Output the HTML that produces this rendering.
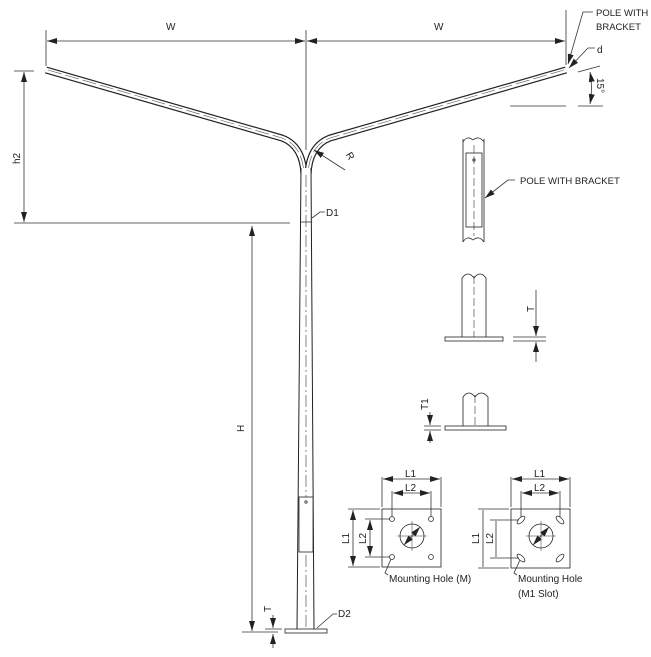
<!DOCTYPE html>
<html><head><meta charset="utf-8"><style>
html,body{margin:0;padding:0;background:#fff;}
svg{display:block;}
text{font-family:"Liberation Sans",Arial,sans-serif;fill:#222;}
</style></head><body>
<svg width="651" height="657" viewBox="0 0 651 657" xmlns="http://www.w3.org/2000/svg">
<defs>
<marker id="a" viewBox="0 0 10 6" refX="10" refY="3" markerWidth="10" markerHeight="6" orient="auto-start-reverse" markerUnits="userSpaceOnUse"><path d="M0,0 L10,3 L0,6z" fill="#222"/></marker>
</defs>
<g stroke="#333" fill="none" stroke-width="0.8">
<!-- W dimension -->
<line x1="46" y1="30" x2="46" y2="66"/>
<line x1="566" y1="10" x2="566" y2="65"/>
<line x1="306" y1="30" x2="306" y2="150"/>
<line x1="47" y1="41" x2="305" y2="41" marker-start="url(#a)" marker-end="url(#a)"/>
<line x1="307" y1="41" x2="565" y2="41" marker-start="url(#a)" marker-end="url(#a)"/>
<!-- arms -->
<path d="M46,70 L282,138 Q303,146 304,175" stroke="#222" stroke-width="7"/>
<path d="M46,70 L282,138 Q303,146 304,175" stroke="#fff" stroke-width="4.6"/>
<path d="M566,70 L330,138 Q309,146 308,175" stroke="#222" stroke-width="7"/>
<path d="M566,70 L330,138 Q309,146 308,175" stroke="#fff" stroke-width="4.6"/>
<path d="M48,70 L282,138 Q303,146 304,175" stroke="#555" stroke-width="0.6" stroke-dasharray="14,4"/>
<path d="M564,70 L330,138 Q309,146 308,175" stroke="#555" stroke-width="0.6" stroke-dasharray="14,4"/>
<!-- pole -->
<path d="M301,168 L297,630 L314,630 L311,168" fill="#fff" stroke="#222" stroke-width="1"/>
<line x1="306" y1="175" x2="306" y2="630" stroke-dasharray="12,3,2,3" stroke-width="0.6"/>
<line x1="301" y1="222" x2="311" y2="222"/>
<rect x="299" y="497" width="14" height="55" fill="#fff" stroke="#222"/>
<circle cx="306" cy="502" r="1.2"/>
<rect x="285" y="629" width="42" height="4" fill="#fff" stroke="#222"/>
<!-- h2 -->
<line x1="14" y1="71" x2="34" y2="71"/>
<line x1="14" y1="223" x2="290" y2="223"/>
<line x1="24" y1="72" x2="24" y2="222" marker-start="url(#a)" marker-end="url(#a)"/>
<!-- H -->
<line x1="242" y1="632" x2="278" y2="632"/>
<line x1="252" y1="226" x2="252" y2="631" marker-start="url(#a)" marker-end="url(#a)"/>
<line x1="265" y1="629" x2="282" y2="629"/>
<line x1="273" y1="615" x2="273" y2="628" marker-end="url(#a)"/>
<line x1="273" y1="648" x2="273" y2="634" marker-end="url(#a)"/>
<!-- D1, D2, R leaders -->
<path d="M312,218 L320,212 L325,212"/>
<path d="M317,628 L333,614 L337,614"/>
<line x1="345" y1="170" x2="314" y2="150" marker-end="url(#a)"/>
<!-- top right labels -->
<path d="M593,12 L583,12 L568,64" marker-end="url(#a)"/>
<path d="M595,48 L588,48 L569,68" marker-end="url(#a)"/>
<line x1="578" y1="72" x2="600" y2="66"/>
<line x1="510" y1="106" x2="566" y2="106"/>
<line x1="578" y1="106" x2="603" y2="106"/>
<path d="M590,72 Q593,88 590,104" marker-start="url(#a)" marker-end="url(#a)"/>
<!-- pole with bracket detail -->
<path d="M463,139 L463,242 M484,139 L484,242" stroke="#222"/>
<path d="M463,142 Q467,135 473,140 Q479,135 484,142" /><path d="M463,242 Q467,235 473,240 Q479,235 484,242"/>
<rect x="466" y="153" width="16" height="74" stroke="#222"/>
<line x1="474" y1="145" x2="474" y2="236" stroke-dasharray="8,3" stroke-width="0.6"/>
<circle cx="474" cy="160" r="1.2"/>
<path d="M515,180 L508,180 L485,198" marker-end="url(#a)"/>
<!-- base detail 1 -->
<path d="M462,337 L462,278 Q468,270 474,278 Q480,270 486,278 L486,337" stroke="#222"/>
<line x1="474" y1="276" x2="474" y2="338" stroke-dasharray="8,3" stroke-width="0.6"/>
<rect x="445" y="337" width="58" height="4" stroke="#222" fill="#fff"/>
<line x1="513" y1="337" x2="546" y2="337"/><line x1="513" y1="341" x2="546" y2="341"/>
<line x1="536" y1="290" x2="536" y2="336" marker-end="url(#a)"/>
<line x1="536" y1="362" x2="536" y2="342" marker-end="url(#a)"/>
<!-- base detail 2 -->
<path d="M463,426 L463,397 Q469,389 475,397 Q481,389 488,397 L488,426" stroke="#222"/>
<line x1="475" y1="395" x2="475" y2="430" stroke-dasharray="8,3" stroke-width="0.6"/>
<rect x="445" y="426" width="61" height="4" stroke="#222" fill="#fff"/>
<line x1="424" y1="426" x2="441" y2="426"/><line x1="424" y1="430" x2="441" y2="430"/>
<line x1="430" y1="412" x2="430" y2="425" marker-end="url(#a)"/>
<line x1="430" y1="443" x2="430" y2="431" marker-end="url(#a)"/>
<!-- square 1 -->
<rect x="382" y="509" width="59" height="58" stroke="#222"/>
<line x1="382" y1="477" x2="382" y2="507"/><line x1="441" y1="477" x2="441" y2="507"/>
<line x1="383" y1="479" x2="440" y2="479" marker-start="url(#a)" marker-end="url(#a)"/>
<line x1="392" y1="491" x2="392" y2="517"/><line x1="431" y1="491" x2="431" y2="517"/>
<line x1="393" y1="493" x2="430" y2="493" marker-start="url(#a)" marker-end="url(#a)"/>
<line x1="348" y1="509" x2="380" y2="509"/><line x1="348" y1="567" x2="380" y2="567"/>
<line x1="353" y1="510" x2="353" y2="566" marker-start="url(#a)" marker-end="url(#a)"/>
<line x1="365" y1="519" x2="390" y2="519"/><line x1="365" y1="557" x2="390" y2="557"/>
<line x1="370" y1="520" x2="370" y2="556" marker-start="url(#a)" marker-end="url(#a)"/>
<circle cx="392" cy="519" r="2.5"/><circle cx="431" cy="519" r="2.5"/><circle cx="392" cy="557" r="2.5"/><circle cx="431" cy="557" r="2.5"/>
<circle cx="412" cy="536" r="12" stroke="#222"/>
<line x1="412" y1="521" x2="412" y2="551" stroke-width="0.5"/><line x1="397" y1="536" x2="427" y2="536" stroke-width="0.5"/>
<line x1="420" y1="527" x2="404" y2="545" marker-start="url(#a)" marker-end="url(#a)"/>
<path d="M391,559 L385,573 L388,575"/>
<!-- square 2 -->
<rect x="511" y="509" width="59" height="59" stroke="#222"/>
<line x1="511" y1="477" x2="511" y2="507"/><line x1="570" y1="477" x2="570" y2="507"/>
<line x1="512" y1="479" x2="569" y2="479" marker-start="url(#a)" marker-end="url(#a)"/>
<line x1="521" y1="491" x2="521" y2="517"/><line x1="560" y1="491" x2="560" y2="517"/>
<line x1="522" y1="493" x2="559" y2="493" marker-start="url(#a)" marker-end="url(#a)"/>
<line x1="478" y1="509" x2="509" y2="509"/><line x1="478" y1="568" x2="509" y2="568"/>
<line x1="483" y1="510" x2="483" y2="567"/>
<line x1="490" y1="520" x2="519" y2="520"/><line x1="490" y1="558" x2="519" y2="558"/>
<line x1="496" y1="521" x2="496" y2="557"/>
<ellipse cx="521" cy="520" rx="5" ry="2.3" transform="rotate(-45 521 520)"/>
<ellipse cx="560" cy="520" rx="5" ry="2.3" transform="rotate(45 560 520)"/>
<ellipse cx="521" cy="558" rx="5" ry="2.3" transform="rotate(45 521 558)"/>
<ellipse cx="560" cy="558" rx="5" ry="2.3" transform="rotate(-45 560 558)"/>
<circle cx="541" cy="536" r="12" stroke="#222"/>
<line x1="541" y1="521" x2="541" y2="551" stroke-width="0.5"/><line x1="526" y1="536" x2="556" y2="536" stroke-width="0.5"/>
<line x1="549" y1="527" x2="533" y2="545" marker-start="url(#a)" marker-end="url(#a)"/>
<path d="M520,560 L514,573 L517,575"/>
</g>
<g font-size="10">
<text x="166" y="30">W</text>
<text x="434" y="30">W</text>
<text x="596" y="16" font-size="9.5">POLE WITH</text>
<text x="596" y="30" font-size="9.5">BRACKET</text>
<text x="597" y="53">d</text>
<text x="0" y="0" transform="translate(597,78) rotate(90)">15°</text>
<text x="0" y="0" transform="translate(20,164) rotate(-90)">h2</text>
<text x="347" y="160" transform="rotate(60 351 156)">R</text>
<text x="326" y="216">D1</text>
<text x="338" y="617">D2</text>
<text x="520" y="184" font-size="9.5">POLE WITH BRACKET</text>
<text x="0" y="0" transform="translate(244,432) rotate(-90)">H</text>
<text x="0" y="0" transform="translate(271,612) rotate(-90)">T</text>
<text x="0" y="0" transform="translate(534,312) rotate(-90)">T</text>
<text x="0" y="0" transform="translate(428,410) rotate(-90)">T1</text>
<text x="405" y="477">L1</text><text x="405" y="491">L2</text>
<text x="534" y="477">L1</text><text x="534" y="491">L2</text>
<text x="0" y="0" transform="translate(349,544) rotate(-90)">L1</text>
<text x="0" y="0" transform="translate(366,544) rotate(-90)">L2</text>
<text x="0" y="0" transform="translate(479,544) rotate(-90)">L1</text>
<text x="0" y="0" transform="translate(493,544) rotate(-90)">L2</text>
<text x="389" y="582">Mounting Hole (M)</text>
<text x="518" y="582">Mounting Hole</text>
<text x="518" y="597">(M1 Slot)</text>
</g>
</svg>
</body></html>
